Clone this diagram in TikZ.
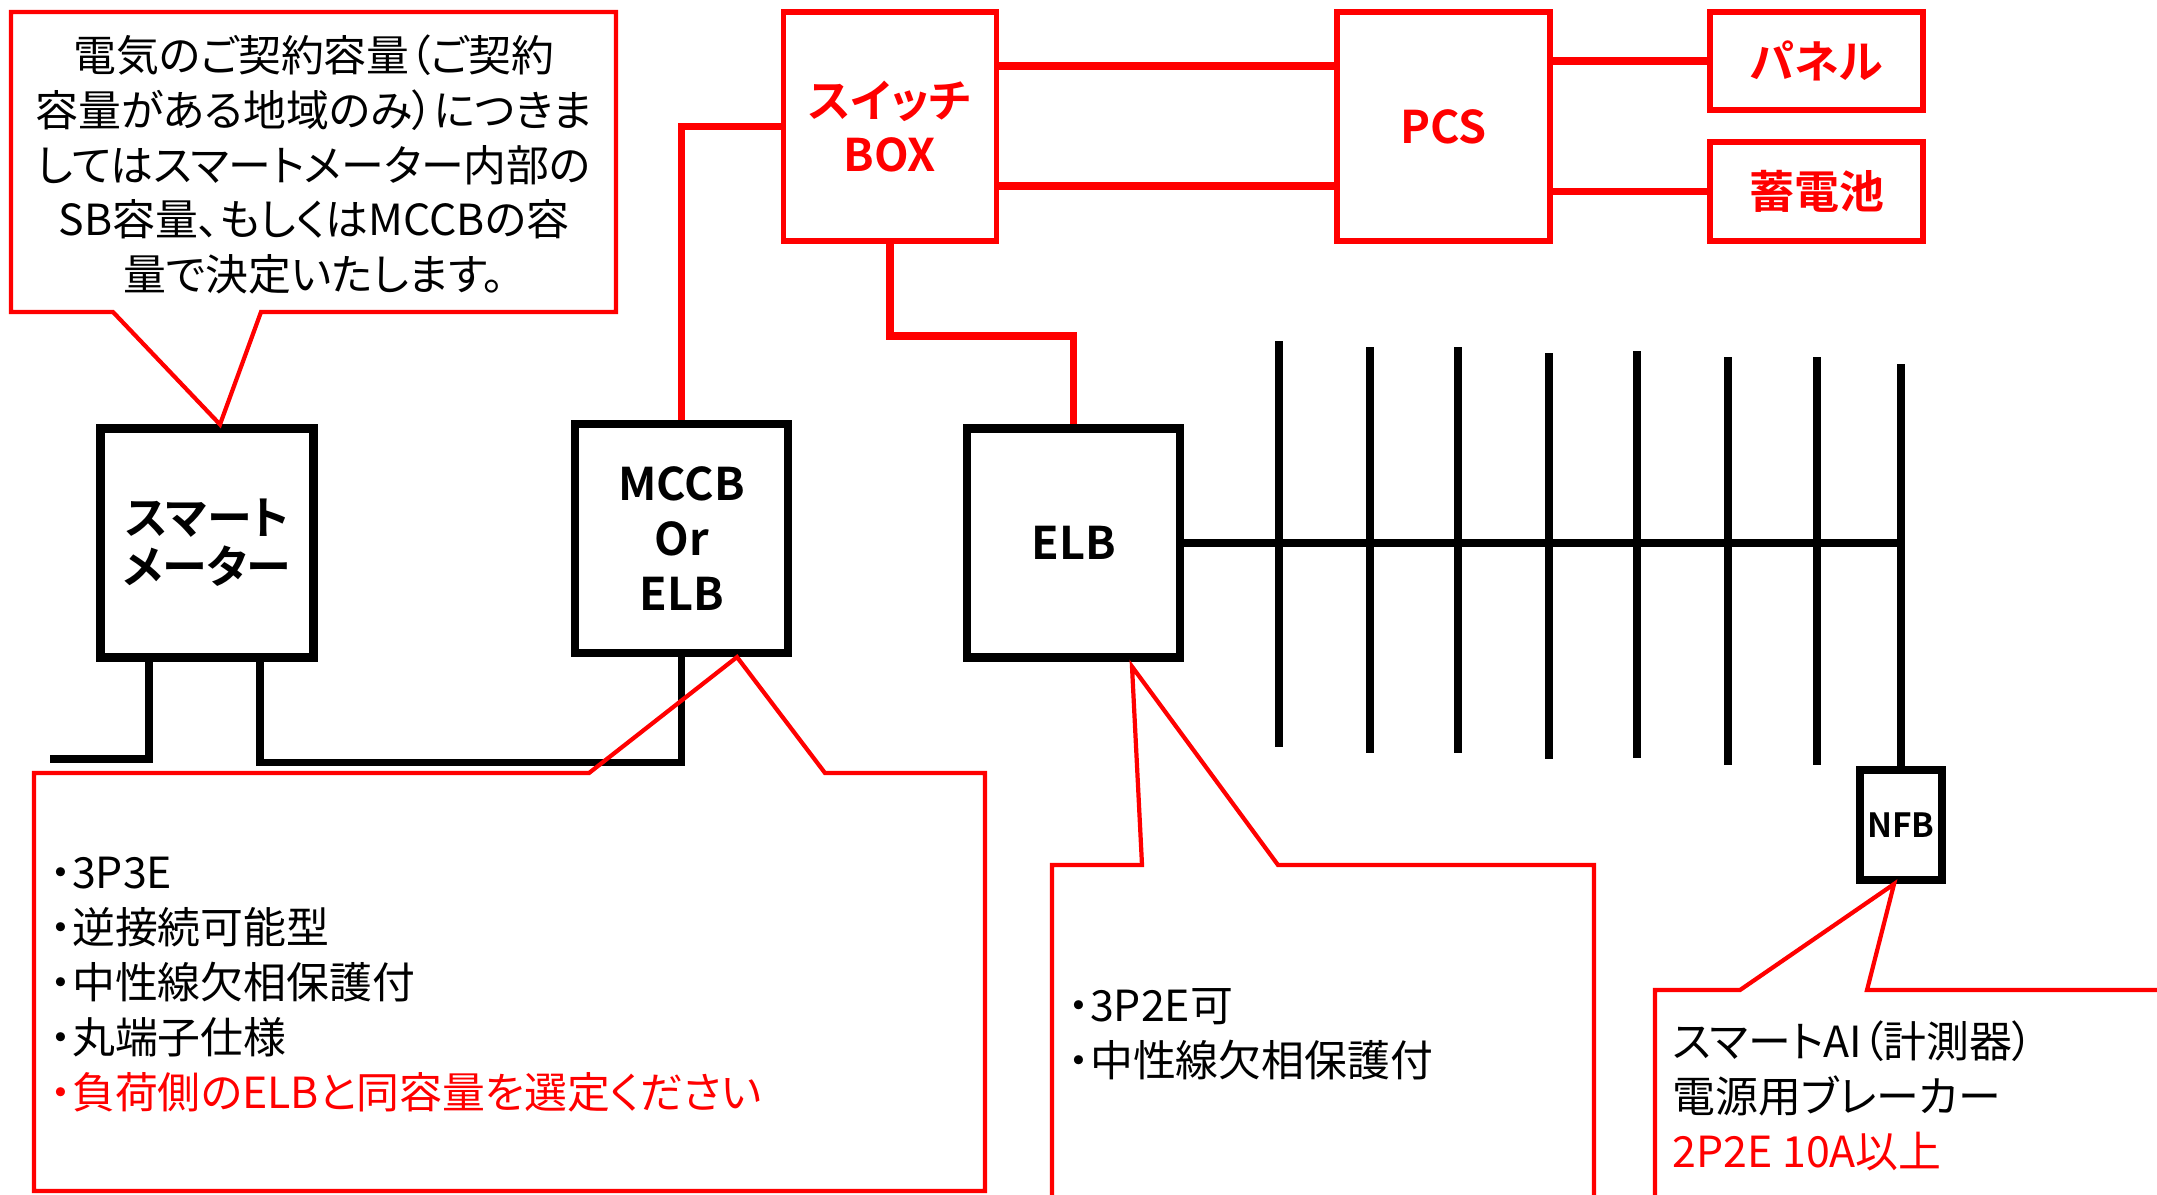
\documentclass[tikz,border=0pt]{standalone}
\usepackage{fontspec}
\setmainfont{Noto Sans CJK JP}[BoldFont={Noto Sans CJK JP Bold},CharacterWidth=AlternateProportional]

\begin{document}
\begin{tikzpicture}[
    blkbox/.style={draw,line width=2.3pt,minimum width=2.13cm,minimum height=2.29cm,align=center,font=\fontsize{12.8}{15.6}\selectfont\bfseries},
    redbox/.style={draw=red,text=red,line width=1.6pt,minimum width=2.13cm,align=center,font=\fontsize{12.8}{15.6}\selectfont\bfseries},
    wire/.style={line width=2.1pt},
    redwire/.style={draw=red,line width=2.2pt},
    callout/.style={draw=red,line width=1.2pt},
    notetext/.style={inner sep=0pt,font=\fontsize{12.2}{15.6}\selectfont}
]
    \useasboundingbox (0,0) rectangle (21.57,-11.94);
    \clip (0,0) rectangle (21.57,-11.94);
    % boxes
    \node [blkbox,font=\fontsize{12.8}{14}\selectfont\bfseries] (meter) at (2.07,-5.43) {スマート\\メーター};
    \node [blkbox] (mccb) at (6.815,-5.385) {MCCB\\Or\\ELB};
    \node [blkbox] (elb) at (10.735,-5.43) {ELB};
    \node [blkbox,minimum width=0.82cm,minimum height=1.10cm,inner sep=0pt,font=\fontsize{9.5}{11}\selectfont\bfseries] (nfb) at (19.01,-8.25) {NFB};
    \node [redbox,minimum height=2.29cm] (switch) at (8.90,-1.265) {スイッチ\\BOX};
    \node [redbox,minimum height=2.29cm] (pcs) at (14.435,-1.265) {PCS};
    \node [redbox,minimum height=0.98cm] (panel) at (18.165,-0.61) {パネル};
    \node [redbox,minimum height=0.99cm] (battery) at (18.165,-1.915) {蓄電池};
    \coordinate (feed) at (0.50,-7.59);
    % wiring
    \draw [wire] ([xshift=-0.58cm]meter.south) |- (feed);
    \draw [wire] ([xshift=0.53cm]meter.south) -- ++(0,-1.01) -| (mccb.south);
    \draw [redwire] (mccb.north) |- (switch.west);
    \draw [redwire] (switch.south) -- ++(0,-0.92) -| (elb.north);
    \draw [redwire] ([yshift=0.605cm]switch.east) -- ([yshift=0.605cm]pcs.west);
    \draw [redwire] ([yshift=-0.595cm]switch.east) -- ([yshift=-0.595cm]pcs.west);
    \draw [redwire] (pcs.east |- panel.west) -- (panel.west);
    \draw [redwire] (pcs.east |- battery.west) -- (battery.west);
    \draw [wire,line width=2.3pt] (elb.east) -- (elb.east -| nfb.north);
    \draw [wire] (nfb.north) -- (nfb.north |- 0,-3.64);
    \foreach \x/\t/\b in {12.79/3.41/7.47,13.70/3.47/7.53,14.58/3.47/7.53,15.49/3.53/7.59,16.37/3.51/7.58,17.28/3.57/7.65,18.17/3.57/7.65}
        \draw [wire] (\x,-\t) -- (\x,-\b);
    % callouts
    \draw [callout] (0.11,-0.12) -- (6.16,-0.12) -- (6.16,-3.12) -- (2.61,-3.12) -- ([xshift=0.13cm]meter.north) -- (1.13,-3.12) -- (0.11,-3.12) -- cycle;
    \draw [callout] (0.34,-7.73) -- (5.89,-7.73) -- ([xshift=0.555cm]mccb.south) -- (8.25,-7.73) -- (9.85,-7.73) -- (9.85,-11.91) -- (0.34,-11.91) -- cycle;
    \draw [callout] (10.52,-8.65) -- (11.42,-8.65) -- ([xshift=0.585cm,yshift=-0.05cm]elb.south) -- (12.78,-8.65) -- (15.94,-8.65) -- (15.94,-12.5) -- (10.52,-12.5) -- cycle;
    \draw [callout] (16.55,-9.90) -- (17.40,-9.90) -- ([xshift=-0.07cm]nfb.south) -- (18.67,-9.90) -- (22,-9.90) -- (22,-12.5) -- (16.55,-12.5) -- cycle;
    \node [notetext,align=center] (note1) at (3.14,-1.645) {電気のご契約容量（ご契約\\容量がある地域のみ）につきま\\してはスマートメーター内部の\\SB容量、もしくはMCCBの容\\量で決定いたします。};
    \node [notetext,align=left,anchor=west] (note2) at (0.50,-9.845) {・3P3E\\・逆接続可能型\\・中性線欠相保護付\\・丸端子仕様\\\textcolor{red}{・負荷側のELBと同容量を選定ください}};
    \node [notetext,align=left,anchor=west] (note3) at (10.68,-10.345) {・3P2E可\\・中性線欠相保護付};
    \node [notetext,align=left,anchor=west] (note4) at (16.72,-10.96) {スマートAI（計測器）\\電源用ブレーカー\\\textcolor{red}{2P2E 10A以上}};
\end{tikzpicture}
\end{document}
